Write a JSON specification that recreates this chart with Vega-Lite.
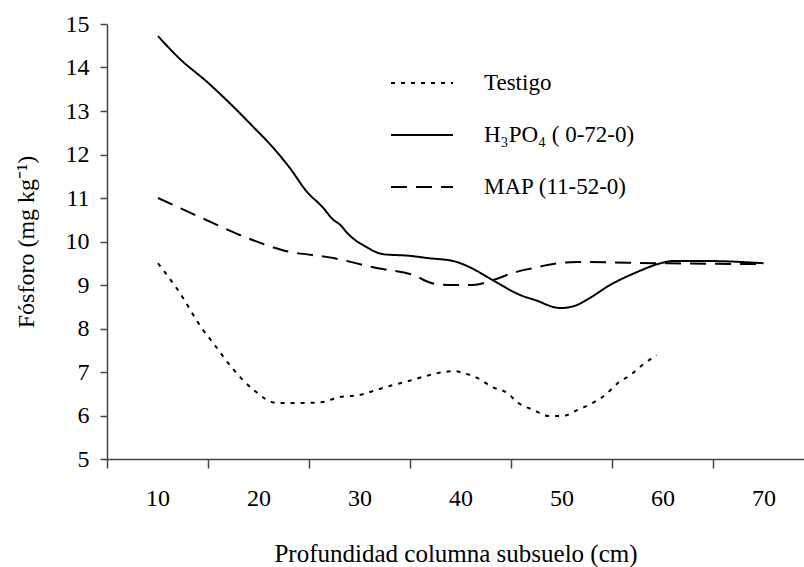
{
  "$schema": "https://vega.github.io/schema/vega-lite/v6.json",
  "autosize": {"type": "none"},
  "padding": {"left": 107, "top": 24, "right": 0, "bottom": 108},
  "width": 697,
  "height": 435,
  "background": "white",
  "config": {
    "view": {"stroke": null},
    "font": "Liberation Serif",
    "text": {"font": "Liberation Serif"},
    "axis": {"grid": false, "domainColor": "#444", "tickColor": "#444", "labelColor": "black", "titleColor": "black", "labelFont": "Liberation Serif", "titleFont": "Liberation Serif", "labelFontSize": 24, "titleFontSize": 24, "titleFontWeight": "normal"}
  },
  "data": {"values": [
    {"s": "Testigo", "x": 10.05, "y": 9.5},
    {"s": "Testigo", "x": 12.0, "y": 8.89},
    {"s": "Testigo", "x": 14.5, "y": 7.97},
    {"s": "Testigo", "x": 15.5, "y": 7.67},
    {"s": "Testigo", "x": 17.4, "y": 7.09},
    {"s": "Testigo", "x": 19.5, "y": 6.59},
    {"s": "Testigo", "x": 21.8, "y": 6.29},
    {"s": "Testigo", "x": 24.8, "y": 6.29},
    {"s": "Testigo", "x": 26.4, "y": 6.31},
    {"s": "Testigo", "x": 27.9, "y": 6.42},
    {"s": "Testigo", "x": 30.0, "y": 6.47},
    {"s": "Testigo", "x": 31.7, "y": 6.59},
    {"s": "Testigo", "x": 33.3, "y": 6.7},
    {"s": "Testigo", "x": 34.5, "y": 6.77},
    {"s": "Testigo", "x": 36.3, "y": 6.89},
    {"s": "Testigo", "x": 37.8, "y": 6.98},
    {"s": "Testigo", "x": 39.5, "y": 7.02},
    {"s": "Testigo", "x": 40.2, "y": 6.98},
    {"s": "Testigo", "x": 41.7, "y": 6.86},
    {"s": "Testigo", "x": 43.1, "y": 6.66},
    {"s": "Testigo", "x": 44.6, "y": 6.52},
    {"s": "Testigo", "x": 45.7, "y": 6.29},
    {"s": "Testigo", "x": 47.2, "y": 6.13},
    {"s": "Testigo", "x": 48.7, "y": 5.99},
    {"s": "Testigo", "x": 50.1, "y": 5.99},
    {"s": "Testigo", "x": 51.6, "y": 6.13},
    {"s": "Testigo", "x": 53.1, "y": 6.29},
    {"s": "Testigo", "x": 54.3, "y": 6.47},
    {"s": "Testigo", "x": 55.6, "y": 6.75},
    {"s": "Testigo", "x": 56.8, "y": 6.93},
    {"s": "Testigo", "x": 58.0, "y": 7.16},
    {"s": "Testigo", "x": 59.4, "y": 7.39},
    {"s": "H₃PO₄ ( 0-72-0)", "x": 10.05, "y": 14.72},
    {"s": "H₃PO₄ ( 0-72-0)", "x": 12.2, "y": 14.2},
    {"s": "H₃PO₄ ( 0-72-0)", "x": 14.9, "y": 13.67},
    {"s": "H₃PO₄ ( 0-72-0)", "x": 17.5, "y": 13.1},
    {"s": "H₃PO₄ ( 0-72-0)", "x": 19.5, "y": 12.63},
    {"s": "H₃PO₄ ( 0-72-0)", "x": 21.4, "y": 12.17},
    {"s": "H₃PO₄ ( 0-72-0)", "x": 23.1, "y": 11.69},
    {"s": "H₃PO₄ ( 0-72-0)", "x": 24.8, "y": 11.14},
    {"s": "H₃PO₄ ( 0-72-0)", "x": 26.3, "y": 10.8},
    {"s": "H₃PO₄ ( 0-72-0)", "x": 27.4, "y": 10.5},
    {"s": "H₃PO₄ ( 0-72-0)", "x": 28.1, "y": 10.38},
    {"s": "H₃PO₄ ( 0-72-0)", "x": 28.8, "y": 10.19},
    {"s": "H₃PO₄ ( 0-72-0)", "x": 30.7, "y": 9.87},
    {"s": "H₃PO₄ ( 0-72-0)", "x": 32.3, "y": 9.71},
    {"s": "H₃PO₄ ( 0-72-0)", "x": 35.0, "y": 9.67},
    {"s": "H₃PO₄ ( 0-72-0)", "x": 36.7, "y": 9.62},
    {"s": "H₃PO₄ ( 0-72-0)", "x": 39.3, "y": 9.55},
    {"s": "H₃PO₄ ( 0-72-0)", "x": 40.9, "y": 9.41},
    {"s": "H₃PO₄ ( 0-72-0)", "x": 43.2, "y": 9.11},
    {"s": "H₃PO₄ ( 0-72-0)", "x": 45.9, "y": 8.77},
    {"s": "H₃PO₄ ( 0-72-0)", "x": 47.9, "y": 8.61},
    {"s": "H₃PO₄ ( 0-72-0)", "x": 48.6, "y": 8.54},
    {"s": "H₃PO₄ ( 0-72-0)", "x": 49.9, "y": 8.47},
    {"s": "H₃PO₄ ( 0-72-0)", "x": 51.3, "y": 8.52},
    {"s": "H₃PO₄ ( 0-72-0)", "x": 52.5, "y": 8.66},
    {"s": "H₃PO₄ ( 0-72-0)", "x": 54.8, "y": 9.0},
    {"s": "H₃PO₄ ( 0-72-0)", "x": 57.5, "y": 9.3},
    {"s": "H₃PO₄ ( 0-72-0)", "x": 59.8, "y": 9.5},
    {"s": "H₃PO₄ ( 0-72-0)", "x": 61.0, "y": 9.55},
    {"s": "H₃PO₄ ( 0-72-0)", "x": 64.7, "y": 9.55},
    {"s": "H₃PO₄ ( 0-72-0)", "x": 70.0, "y": 9.5},
    {"s": "MAP (11-52-0)", "x": 10.05, "y": 11.0},
    {"s": "MAP (11-52-0)", "x": 14.2, "y": 10.56},
    {"s": "MAP (11-52-0)", "x": 18.9, "y": 10.08},
    {"s": "MAP (11-52-0)", "x": 22.4, "y": 9.8},
    {"s": "MAP (11-52-0)", "x": 27.4, "y": 9.62},
    {"s": "MAP (11-52-0)", "x": 31.7, "y": 9.39},
    {"s": "MAP (11-52-0)", "x": 35.3, "y": 9.23},
    {"s": "MAP (11-52-0)", "x": 37.2, "y": 9.04},
    {"s": "MAP (11-52-0)", "x": 38.7, "y": 9.0},
    {"s": "MAP (11-52-0)", "x": 41.2, "y": 9.0},
    {"s": "MAP (11-52-0)", "x": 43.2, "y": 9.11},
    {"s": "MAP (11-52-0)", "x": 45.2, "y": 9.28},
    {"s": "MAP (11-52-0)", "x": 47.2, "y": 9.39},
    {"s": "MAP (11-52-0)", "x": 48.6, "y": 9.46},
    {"s": "MAP (11-52-0)", "x": 51.5, "y": 9.53},
    {"s": "MAP (11-52-0)", "x": 60.0, "y": 9.5},
    {"s": "MAP (11-52-0)", "x": 70.0, "y": 9.48}
  ]},
  "mark": {"type": "line", "color": "black", "strokeWidth": 2, "interpolate": "monotone"},
  "encoding": {
    "x": {
      "field": "x", "type": "quantitative",
      "scale": {"domain": [5, 74], "nice": false, "zero": false},
      "axis": {
        "values": [5, 10, 15, 20, 25, 30, 35, 40, 45, 50, 55, 60, 65, 70],
        "labelExpr": "datum.value % 10 == 0 ? datum.label : ''",
        "tickOpacity": {"condition": {"test": "datum.value % 10 == 0", "value": 0}, "value": 1},
        "tickSize": 9, "labelPadding": 18, "labelFont": "Liberation Serif", "labelFontSize": 24,
        "domainWidth": 1.5, "tickWidth": 1.5,
        "title": "Profundidad columna subsuelo (cm)", "titleFont": "Liberation Serif", "titleFontSize": 25, "titlePadding": 31
      }
    },
    "y": {
      "field": "y", "type": "quantitative",
      "scale": {"domain": [5, 15], "nice": false, "zero": false},
      "axis": {"values": [5, 6, 7, 8, 9, 10, 11, 12, 13, 14, 15], "tickSize": 7, "labelPadding": 11, "labelFont": "Liberation Serif", "labelFontSize": 24, "domainWidth": 1.5, "tickWidth": 1.5, "title": "Fósforo (mg kg⁻¹)", "titleFont": "Liberation Serif", "titleFontSize": 24, "titlePadding": 27}
    },
    "strokeDash": {
      "field": "s", "type": "nominal",
      "scale": {"domain": ["Testigo", "H₃PO₄ ( 0-72-0)", "MAP (11-52-0)"], "range": [[4, 6], [1, 0], [16, 9]]},
      "legend": {
        "title": null, "orient": "none", "legendX": 283, "legendY": 27,
        "symbolType": "stroke", "symbolSize": 3844, "symbolStrokeWidth": 2, "symbolStrokeColor": "black",
        "labelFont": "Liberation Serif", "labelFontSize": 23, "labelColor": "black", "labelOffset": 30,
        "rowPadding": 8, "labelLimit": 400
      }
    }
  }
}
